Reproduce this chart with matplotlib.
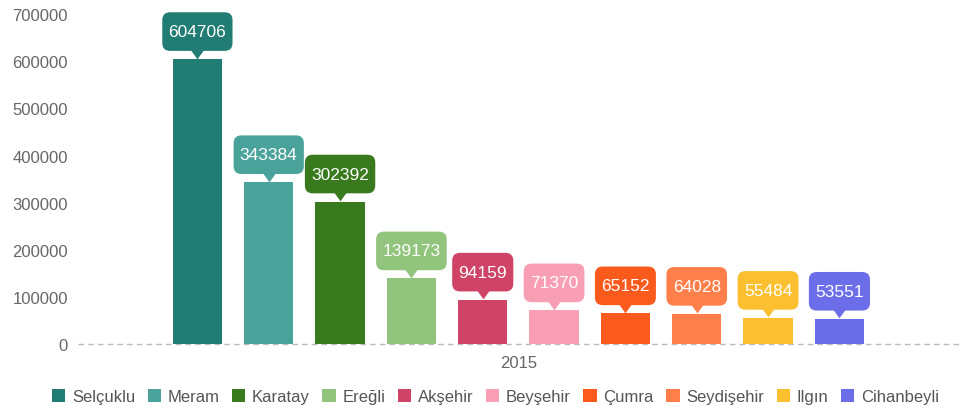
import matplotlib.pyplot as plt
from matplotlib.patches import BoxStyle
from matplotlib.transforms import offset_copy

plt.rcParams['font.family'] = ['Liberation Sans', 'DejaVu Sans']

# population by district, Konya 2015
districts = ["Selçuklu", "Meram", "Karatay", "Ereğli", "Akşehir", "Beyşehir",
             "Çumra", "Seydişehir", "Ilgın", "Cihanbeyli"]
values = [604706, 343384, 302392, 139173, 94159, 71370, 65152, 64028, 55484, 53551]
colors = ["#217d73", "#4aa39a", "#3a7a1e", "#93c47d", "#cf4466", "#f99fb5",
          "#fb5a1d", "#ff7f4a", "#fbbf2f", "#6b6ee8"]
year = "2015"


def callout_box(x0, y0, width, height, mutation_size):
    # rounded box, more padding vertically than horizontally
    padx = 0.36 * mutation_size
    pady = 0.68 * mutation_size
    rnd = BoxStyle.Round(pad=0, rounding_size=0.45)
    return rnd(x0 - padx, y0 - pady, width + 2 * padx, height + 2 * pady, mutation_size)


pointer = [(-1, 0.7), (1, 0.7), (0, -0.7)]

fig = plt.figure(figsize=(9.6, 4.1), dpi=100)
ax = fig.add_axes([0.081, 0.1585, 0.919, 0.8045])

for i, (name, v, c) in enumerate(zip(districts, values, colors)):
    ax.bar(i, v, width=0.69, color=c, label=name, zorder=2)
    tr = offset_copy(ax.transData, fig=fig, x=0, y=4, units='points')
    ax.plot(i, v, marker=pointer, ms=10, color=c, mew=0, transform=tr,
            zorder=3, clip_on=False)
    ax.annotate(str(v), xy=(i, v), xytext=(0, 14.4), textcoords='offset points',
                ha='center', va='bottom', color='white', fontsize=12.5,
                bbox=dict(boxstyle=callout_box, fc=c, ec='none'),
                zorder=4, annotation_clip=False)

ax.set_xlim(-1.677, 10.69)
ax.set_ylim(0, 700000)
ax.set_yticks(range(0, 700001, 100000))
ax.set_xticks([4.5])
ax.set_xticklabels([year])
ax.tick_params(axis='both', length=0, colors='#666666', labelsize=12)
ax.tick_params(axis='y', pad=7)
ax.tick_params(axis='x', pad=8)
for s in ax.spines.values():
    s.set_visible(False)
ax.axhline(0, color='#bbbbbb', lw=1, ls=(0, (4, 3)), zorder=1, clip_on=False)

leg = fig.legend(loc='lower center', bbox_to_anchor=(0.516, -0.025), ncol=10,
                 frameon=False, handlelength=0.8, handleheight=0.8,
                 handletextpad=0.4, columnspacing=0.75, fontsize=12)
for t in leg.get_texts():
    t.set_color('#555555')

fig.savefig('out.png', dpi=100)
